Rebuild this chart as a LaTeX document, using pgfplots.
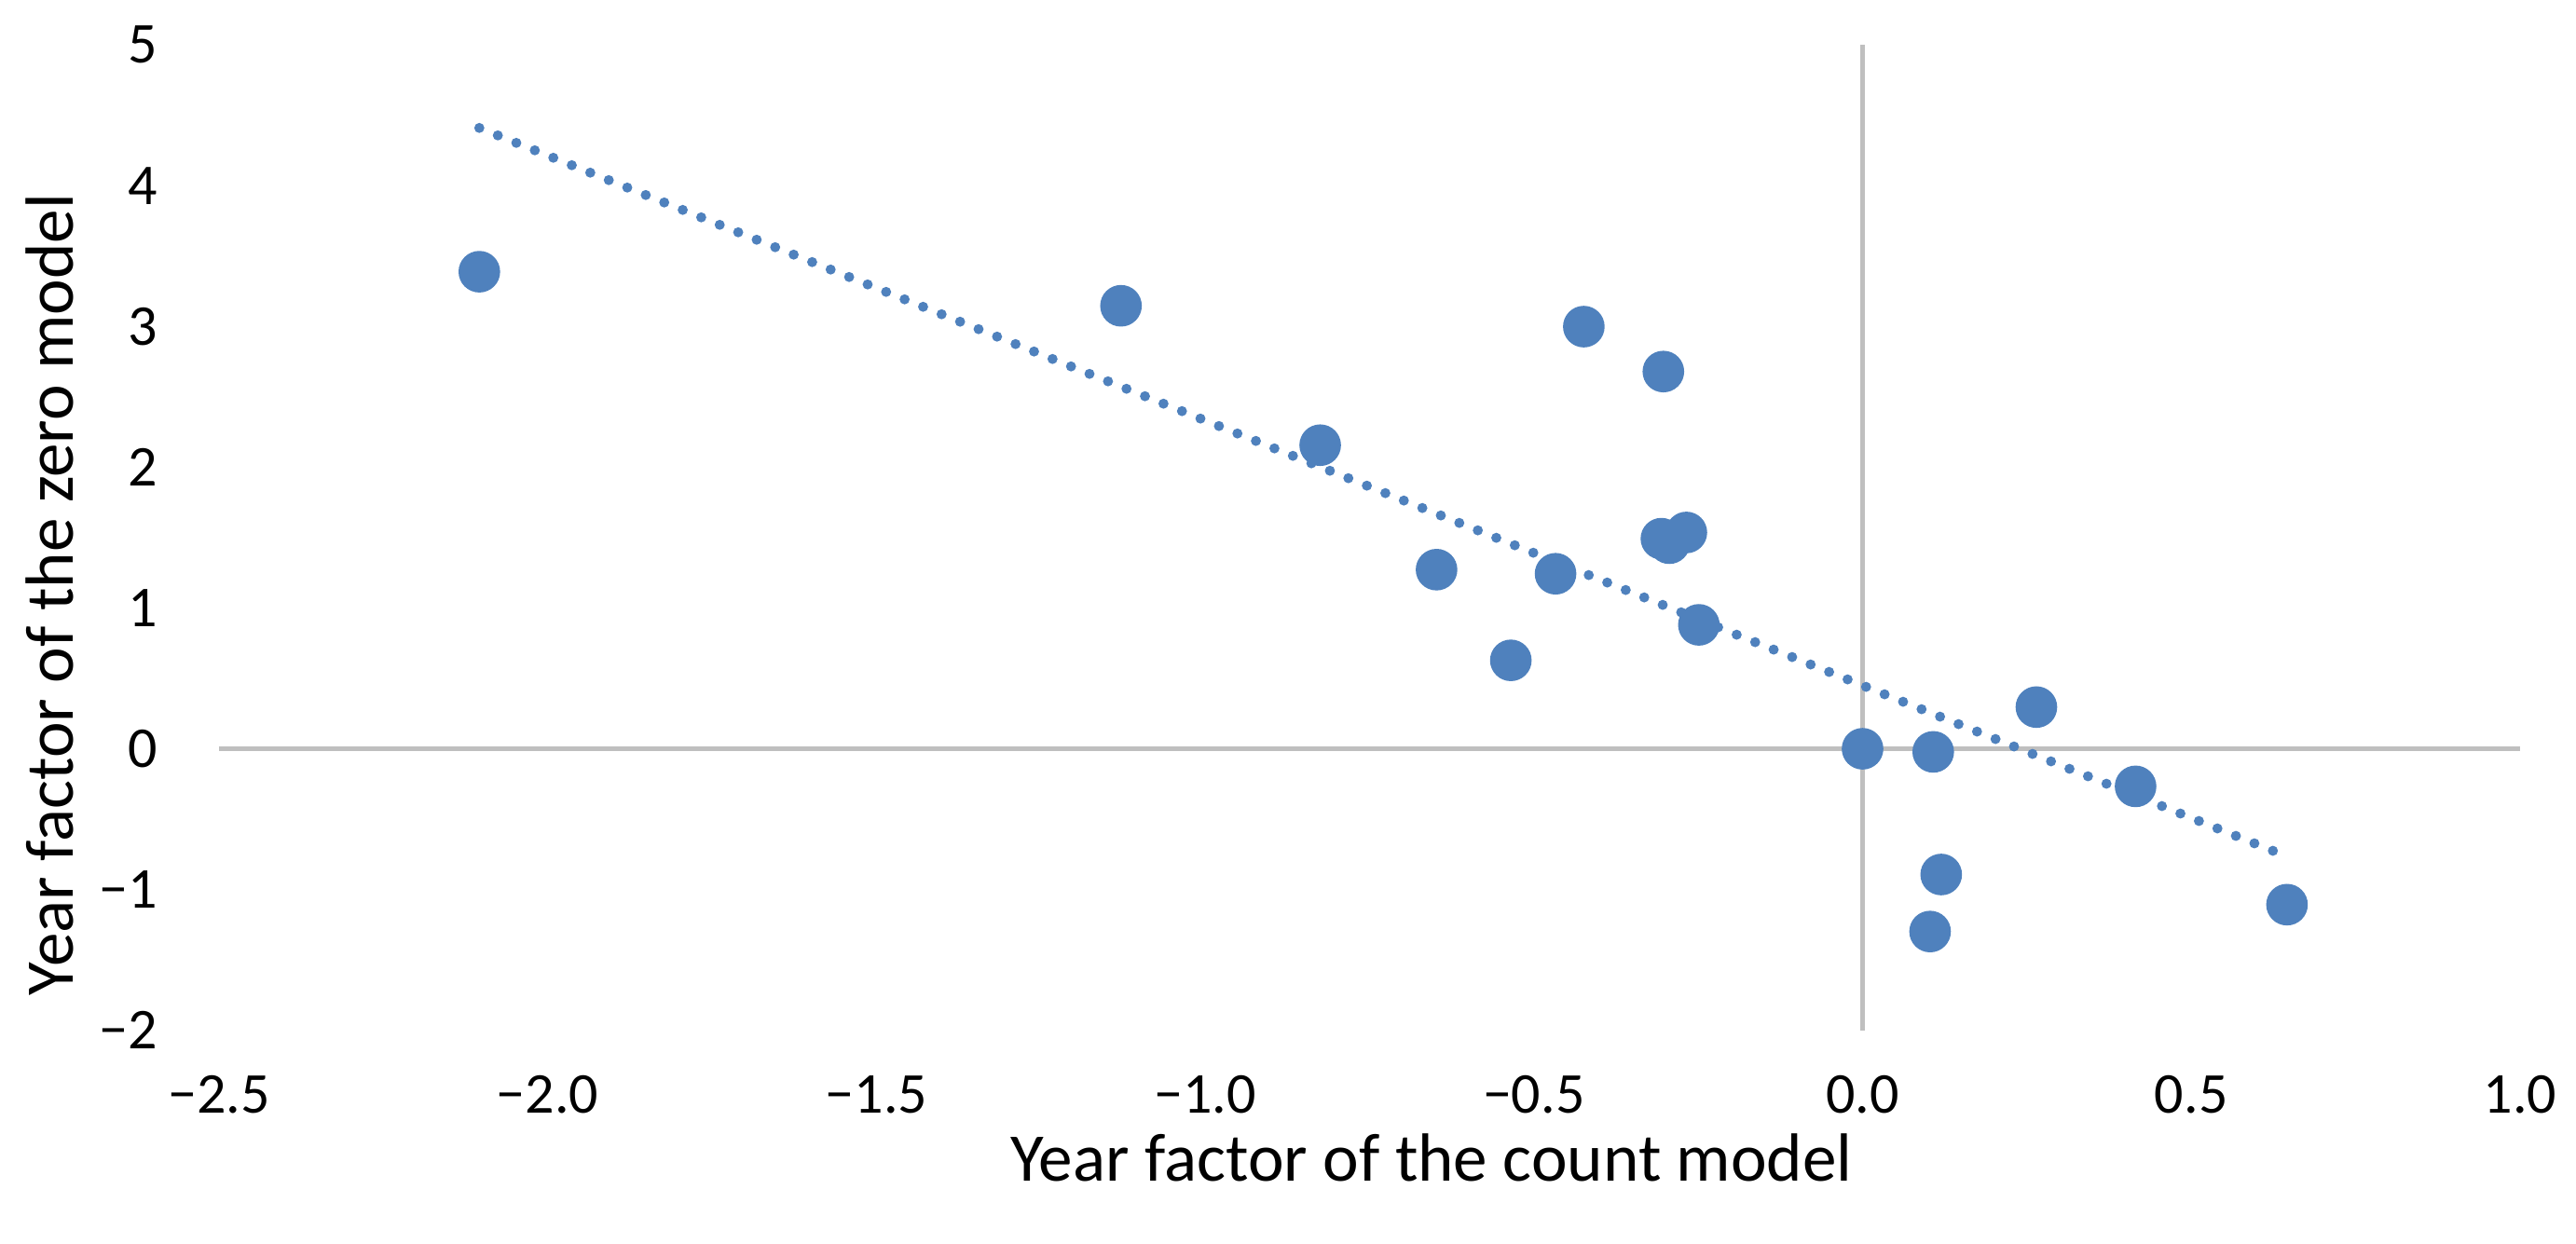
\documentclass[border=0pt]{standalone}
\usepackage{fontspec}
\setmainfont{Carlito}
\usepackage{pgfplots}
\pgfplotsset{compat=1.18}
\definecolor{ptblue}{HTML}{4F81BD}
\definecolor{axgray}{HTML}{BFBFBF}
\begin{document}
\begin{tikzpicture}[font=\fontsize{10}{12}\selectfont]
\path[use as bounding box] (-37.9pt,-36.9pt) rectangle (407.9pt,178.34pt);
\begin{axis}[
  at={(0,0)}, anchor=south west,
  scale only axis, width=398.2pt, height=170.6pt,
  xmin=-2.5, xmax=1, ymin=-2, ymax=5,
  axis line style={draw=none}, tick style={draw=none},
  xtick={-2.5,-2,-1.5,-1,-0.5,0,0.5,1},
  xticklabels={−2.5,−2.0,−1.5,−1.0,−0.5,0.0,0.5,1.0},
  ytick={-2,-1,0,1,2,3,4,5},
  yticklabels={−2,−1,0,1,2,3,4,5},
  xticklabel style={yshift=-6.7pt, inner sep=1pt},
  yticklabel style={xshift=-7.2pt},
  xlabel={Year factor of the count model},
  ylabel={Year factor of the zero model},
  label style={font=\fontsize{11.8}{14}\selectfont, inner sep=1pt},
  x label style={at={(axis description cs:0.527,-0.129)}, anchor=center},
  y label style={at={(axis description cs:-0.0735,0.442)}, anchor=center},
  clip=false,
]
\addplot[axgray, line width=0.85pt, forget plot] coordinates {(-2.5,0) (1,0)};
\addplot[axgray, line width=0.85pt, forget plot] coordinates {(0,-2) (0,5)};
\addplot[only marks, mark=*, mark size=3.4pt, color=ptblue, mark options={draw=ptblue, fill=ptblue}] coordinates {
(-2.104,3.388) (-1.128,3.146) (-0.825,2.156) (-0.424,2.998) (-0.303,2.679)
(-0.648,1.272) (-0.467,1.243) (-0.535,0.628) (-0.306,1.492) (-0.294,1.460)
(-0.268,1.536) (-0.249,0.880) (0,0) (0.1075,-0.022) (0.2644,0.296)
(0.4153,-0.267) (0.1196,-0.893) (0.1027,-1.298) (0.6456,-1.107)
};
\addplot[ptblue, line width=1.75pt, line cap=round, dash pattern=on 0pt off 3.45pt] coordinates {(-2.104,4.409) (0.6456,-0.765)};
\end{axis}
\end{tikzpicture}
\end{document}
